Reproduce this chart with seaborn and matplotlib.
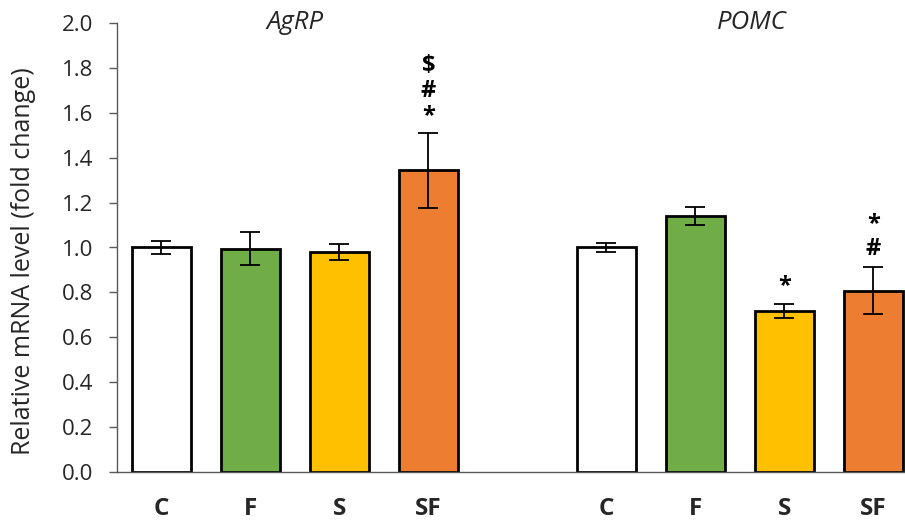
import numpy as np
import pandas as pd
import matplotlib
matplotlib.use("Agg")
import matplotlib.pyplot as plt
import seaborn as sns

genes = ["AgRP", "POMC"]
treatments = ["C", "F", "S", "SF"]
agrp_mean = [1.00, 0.995, 0.98, 1.343]
agrp_err = [0.027, 0.072, 0.034, 0.166]
pomc_mean = [1.00, 1.140, 0.718, 0.808]
pomc_err = [0.018, 0.040, 0.030, 0.106]
# significance marks, listed bottom to top
agrp_sig = [[], [], [], ["*", "#", "$"]]
pomc_sig = [[], [], ["*"], ["#", "*"]]
colors = {"C": "#FFFFFF", "F": "#70AD47", "S": "#FFC000", "SF": "#ED7D31"}

sns.set_theme(style="white")
plt.rcParams["font.family"] = ["Open Sans", "DejaVu Sans"]

rows = []
for gi, (gene, means, errs, sigs) in enumerate(
    zip(genes, [agrp_mean, pomc_mean], [agrp_err, pomc_err], [agrp_sig, pomc_sig])
):
    for ti, t in enumerate(treatments):
        rows.append({"gene": gene, "treat": t, "pos": gi * (len(treatments) + 1) + ti,
                     "value": means[ti], "err": errs[ti], "sig": sigs[ti]})
df = pd.DataFrame(rows)

fig = plt.figure(figsize=(9.05, 5.27), dpi=100)
ax = fig.add_axes([117 / 905, 55 / 527, 788 / 905, 449 / 527])

sns.barplot(data=df, x="pos", y="value", hue="treat", palette=colors,
            native_scale=True, dodge=False, width=0.66, edgecolor="black",
            linewidth=2.0, saturation=1, legend=False, ax=ax, zorder=2)
ax.errorbar(df["pos"], df["value"], yerr=df["err"], fmt="none", ecolor="black",
            elinewidth=1.3, capsize=7, capthick=1.3, zorder=3)

for _, r in df.iterrows():
    for k, mark in enumerate(r["sig"]):
        ax.annotate("\\$" if mark == "$" else mark, (r["pos"], r["value"] + r["err"]),
                    xytext=(0, 4 + 18 * k), textcoords="offset points",
                    ha="center", va="bottom", fontsize=17, fontweight="bold",
                    color="black", annotation_clip=False)

for gi, gene in enumerate(genes):
    center = gi * (len(treatments) + 1) + (len(treatments) - 1) / 2
    ax.text(center + 0.13 * gi, 2.0, gene, ha="center", va="center",
            fontsize=18.5, fontstyle="italic", clip_on=False)

ax.set_xlim(-0.5, 8.354)
ax.set_ylim(0, 2.0)
ax.set_yticks(np.arange(0, 2.01, 0.2))
ax.set_yticklabels([f"{v:.1f}" for v in np.arange(0, 2.01, 0.2)], fontsize=16)
ax.set_xticks(df["pos"])
ax.set_xticklabels(df["treat"], fontsize=17.5, fontweight="bold")
ax.tick_params(axis="x", length=0, pad=18)
ax.tick_params(axis="y", length=6, width=1, color="#595959", pad=11, left=True)
ax.set_xlabel("")
ax.set_ylabel("Relative mRNA level (fold change)", fontsize=18)
ax.yaxis.set_label_coords(-0.103, 0.47)

for side in ["top", "right"]:
    ax.spines[side].set_visible(False)
for side in ["left", "bottom"]:
    ax.spines[side].set_color("#595959")
    ax.spines[side].set_linewidth(1.0)

fig.savefig("out.png", dpi=100)
